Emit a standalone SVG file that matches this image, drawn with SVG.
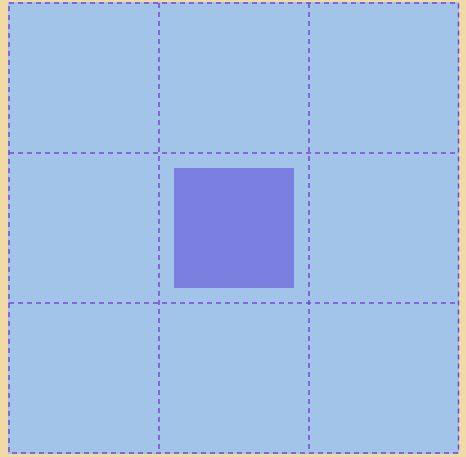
<svg xmlns="http://www.w3.org/2000/svg" width="466" height="457" viewBox="0 0 466 457">
<style>
.grid{fill:none;stroke:#7a44d4;stroke-width:1.5;stroke-dasharray:5 4}
</style>
<rect x="0" y="0" width="466" height="457" fill="#f0dba6"/>
<g id="container">
<rect x="8" y="2" width="451" height="452" fill="#a1c4e8"/>
</g>
<g id="grid">
<rect class="grid" x="9" y="3" width="449.5" height="450"/>
<line class="grid" x1="159" y1="3" x2="159" y2="453"/>
<line class="grid" x1="309" y1="3" x2="309" y2="453"/>
<line class="grid" x1="9" y1="153" x2="458.5" y2="153"/>
<line class="grid" x1="9" y1="303" x2="458.5" y2="303"/>
</g>
<g id="item">
<rect x="174" y="168" width="120" height="120" fill="#7a7fe0"/>
</g>
</svg>
